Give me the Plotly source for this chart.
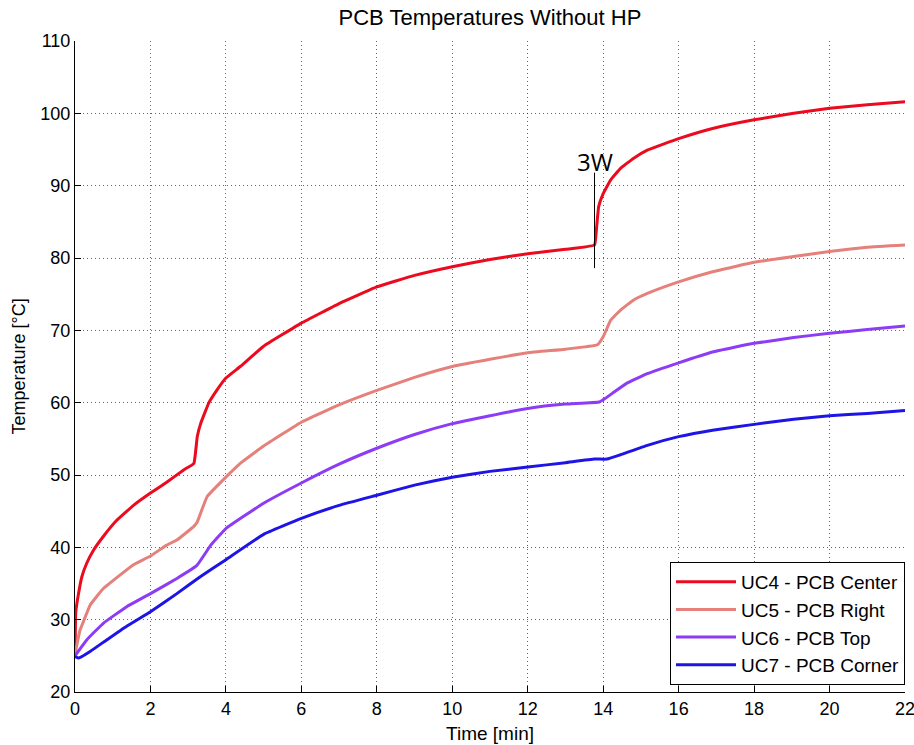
import plotly.graph_objects as go

# Time axis [min] and temperatures [°C] for each sensor
t_uc4 = [0, 0.02, 0.09, 0.18, 0.31, 0.49, 0.75, 1.1, 1.55, 2, 2.43, 2.88, 3.15, 3.24, 3.33,
         3.55, 3.77, 4, 4.38, 5, 6, 7, 8, 9, 10, 11, 12, 13, 13.77, 13.82, 13.88, 14,
         14.2, 14.46, 14.81, 15.17, 16, 16.9, 18, 19.05, 20, 21, 22]
uc4 = [25.2, 31.0, 33.5, 35.9, 37.8, 39.6, 41.5, 43.7, 45.8, 47.5, 49.0, 50.7, 51.6, 55.3, 57.1,
       60.0, 61.8, 63.4, 65.0, 67.8, 71.0, 73.7, 76.0, 77.6, 78.8, 79.8, 80.6, 81.2, 81.8, 83.9, 87.1, 88.9,
       90.8, 92.4, 93.8, 94.9, 96.5, 97.9, 99.1, 100.0, 100.7, 101.2, 101.6]

t_uc5 = [0, 0.13, 0.22, 0.4, 0.75, 1.2, 1.55, 2, 2.43, 2.7, 3.15, 3.24, 3.5, 4, 4.38, 5, 6, 7,
         8, 9, 10, 11, 12, 13, 13.85, 14, 14.2, 14.46, 14.81, 15.17, 16, 16.9, 18, 19.05, 20, 21, 22]
uc5 = [25.2, 28.5, 29.7, 32.0, 34.3, 36.2, 37.6, 38.8, 40.3, 41.0, 42.9, 43.5, 47.0, 49.7, 51.6, 54.0, 57.3, 59.7,
       61.7, 63.5, 65.0, 66.0, 66.9, 67.4, 68.0, 69.1, 71.4, 72.8, 74.2, 75.1, 76.7, 78.1, 79.4, 80.2, 80.9, 81.5, 81.8]

t_uc6 = [0, 0.31, 0.75, 1.37, 2, 2.7, 3.23, 3.6, 4, 5, 6, 7, 8, 9, 10, 11, 12, 13, 13.9, 14,
         14.3, 14.63, 15.17, 16, 16.9, 18, 19.05, 20, 21, 22]
uc6 = [25.0, 27.2, 29.5, 31.8, 33.6, 35.7, 37.5, 40.3, 42.6, 46.1, 48.9, 51.5, 53.7, 55.6, 57.1, 58.2, 59.2, 59.8, 60.1, 60.4,
       61.5, 62.7, 64.0, 65.5, 67.0, 68.2, 69.0, 69.6, 70.1, 70.6]

t_uc7 = [0, 0.1, 0.4, 0.84, 1.37, 2, 2.7, 3.31, 4, 5, 6, 7, 8, 9, 10, 11, 12, 13, 13.77, 14.1,
         14.46, 15.17, 16, 16.9, 18, 19.05, 20, 21, 22]
uc7 = [24.9, 24.7, 25.6, 27.2, 29.1, 31.1, 33.6, 35.9, 38.3, 41.8, 44.0, 45.8, 47.2, 48.6, 49.7, 50.5, 51.1, 51.7, 52.2, 52.2,
       52.8, 54.1, 55.3, 56.2, 57.0, 57.7, 58.2, 58.5, 58.9]

names = ["UC4 - PCB Center", "UC5 - PCB Right", "UC6 - PCB Top", "UC7 - PCB Corner"]
colors = ["#EC0A1E", "#E5807A", "#8C3CF5", "#1E14E6"]

# Power step marker
step_time = 13.77
step_label = "3W"
step_span = [78.6, 91.8]
label_level = 93.4

x_ticks = list(range(0, 23, 2))
y_ticks = list(range(20, 111, 10))

FONT = "Liberation Sans, Arial, sans-serif"

fig = go.Figure()
for tx, ty, name, col in zip([t_uc4, t_uc5, t_uc6, t_uc7], [uc4, uc5, uc6, uc7], names, colors):
    fig.add_trace(go.Scatter(x=tx, y=ty, mode="lines", name=name,
                             line=dict(color=col, width=3, shape="spline", smoothing=0.3)))

fig.add_trace(go.Scatter(x=[step_time, step_time], y=step_span, mode="lines",
                         line=dict(color="black", width=1), showlegend=False, hoverinfo="skip"))
fig.add_annotation(x=step_time, y=label_level, text=step_label, showarrow=False,
                   font=dict(family="Open Sans, Noto Sans, sans-serif", size=24, color="black"))

axis_common = dict(showline=True, linecolor="black", linewidth=1, ticks="inside", ticklen=6,
                   tickcolor="black", showgrid=True, gridcolor="rgba(0,0,0,0.6)", griddash="1px,3px",
                   gridwidth=1, zeroline=False, mirror=False, ticklabeloverflow="allow",
                   automargin=False, tickfont=dict(family=FONT, size=18, color="black"))

fig.update_xaxes(range=[0, 22], tickvals=x_ticks, title=dict(text="Time [min]", standoff=9,
                 font=dict(family=FONT, size=19, color="black")),
                 **axis_common)
fig.update_yaxes(range=[20, 110], tickvals=y_ticks, title=dict(text="Temperature [°C]", standoff=10,
                 font=dict(family=FONT, size=18, color="black")),
                 **axis_common)

fig.update_layout(
    width=914, height=745,
    margin=dict(l=75, r=9, t=41, b=53),
    paper_bgcolor="white", plot_bgcolor="white",
    title=dict(text="PCB Temperatures Without HP", x=0.536, xanchor="center", y=0.977, yanchor="middle",
               font=dict(family=FONT, size=22, color="black")),
    legend=dict(x=1, y=0.011, xanchor="right", yanchor="bottom", bgcolor="white",
                bordercolor="black", borderwidth=1, itemwidth=60,
                font=dict(family=FONT, size=19, color="black"),
                tracegroupgap=0),
    showlegend=True,
)

fig.write_html("out.html")
